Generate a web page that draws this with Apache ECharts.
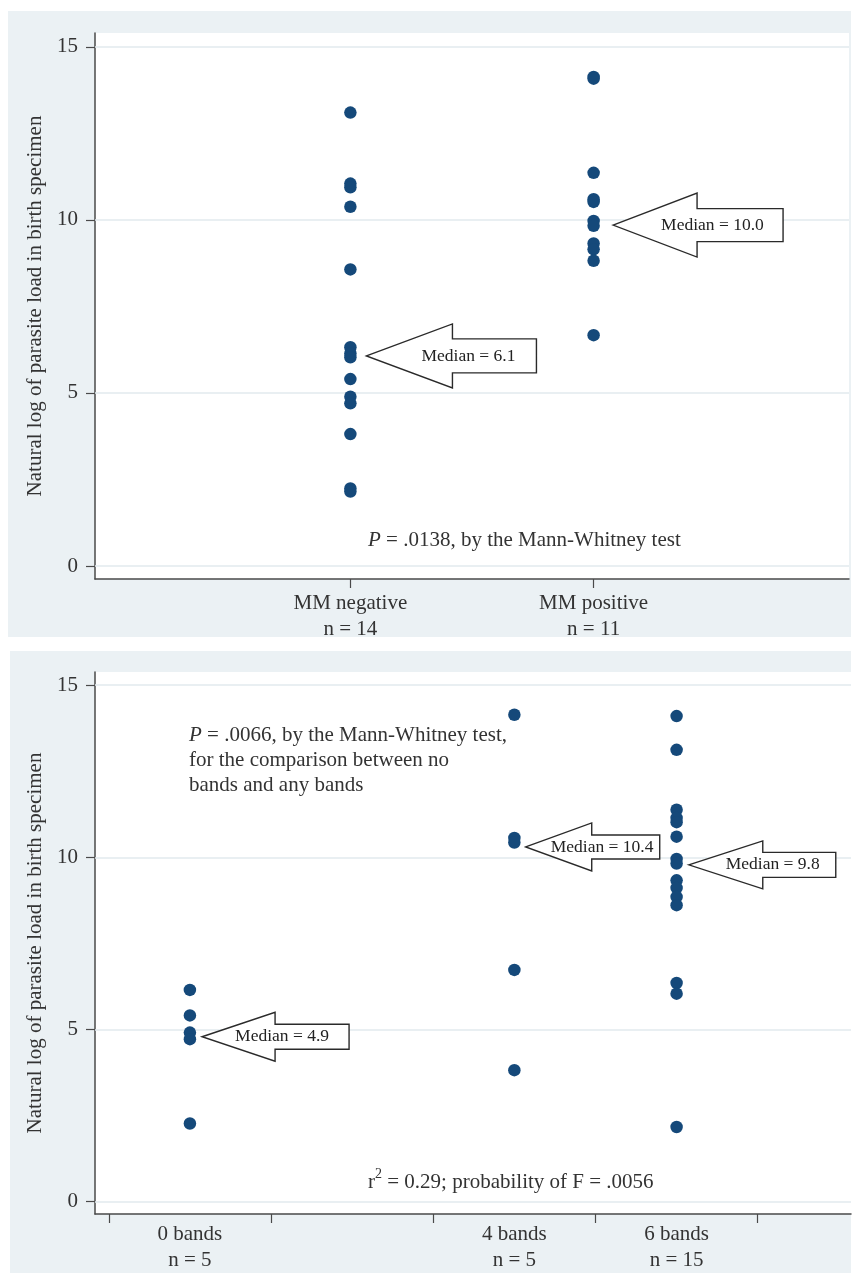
<!DOCTYPE html>
<html>
<head>
<meta charset="utf-8">
<script src="https://cdn.jsdelivr.net/npm/echarts@6/dist/echarts.min.js"></script>
<style>
  html, body { margin: 0; padding: 0; background: #ffffff; }
  #chart { width: 859px; height: 1273px; }
</style>
</head>
<body>
<div id="chart"></div>
<script>
// ---------------- DATA ----------------
// Top panel: MM status
const topCategories = ['MM negative', 'MM positive'];
const topXPositions = [1, 2];
const mmNegative = [13.10, 11.05, 10.94, 10.38, 8.57, 6.32, 6.14, 6.03, 5.40, 4.89, 4.70, 3.81, 2.24, 2.15];
const mmPositive = [14.13, 14.08, 11.36, 10.60, 10.52, 9.97, 9.83, 9.32, 9.15, 8.82, 6.67];
const topMedians = [6.1, 10.0];

// Bottom panel: number of bands
const bottomCategories = ['0 bands', '4 bands', '6 bands'];
const bottomXPositions = [0, 4, 6];
const bands0 = [6.15, 5.41, 4.91, 4.72, 2.27];
const bands4 = [14.14, 10.56, 10.43, 6.73, 3.82];
const bands6 = [14.10, 13.12, 11.38, 11.14, 11.02, 10.60, 9.95, 9.82, 9.33, 9.11, 8.85, 8.61, 6.35, 6.04, 2.17];
const bottomMedians = [4.9, 10.4, 9.8];

// Axis ticks
const yTicks = [0, 5, 10, 15];
const topXTicks = [1, 2];
const bottomXTicks = [-1, 1, 3, 5, 7];

// Annotation texts
const yTitle = 'Natural log of parasite load in birth specimen';
const topTestText = '{i|P} = .0138, by the Mann-Whitney test';
const bottomTestText = '{i|P} = .0066, by the Mann-Whitney test,\nfor the comparison between no\nbands and any bands';

// Arrow tips (data coordinates) and shapes (pixels)
const topArrowTips = [[1.066, 6.07], [2.08, 9.85]];
const bottomArrowTips = [[0.15, 4.79], [4.14, 10.30], [6.15, 9.78]];
const topArrowShapes = [
  { hl: 86, hh: 32, sh: 17, sl: 84, dx: 55 },
  { hl: 84, hh: 32, sh: 16.5, sl: 86, dx: 48 }
];
const bottomArrowShapes = [
  { hl: 73, hh: 24.5, sh: 12.5, sl: 74, dx: 33 },
  { hl: 66, hh: 24, sh: 12, sl: 68, dx: 25 },
  { hl: 74, hh: 24, sh: 12.5, sl: 73, dx: 37 }
];

// ---------------- STYLE ----------------
const FONT = '"Liberation Serif", "Times New Roman", serif';
const DOT = '#15497a';
const AXIS = '#4a4a4a';
const TXT = '#333333';
const GRIDLINE = '#e2eaee';
const PANEL = '#ebf1f4';

const chart = echarts.init(document.getElementById('chart'), null, { renderer: 'canvas' });

function arrowSeries(tips, shapes, medians, xi, yi) {
  return {
    type: 'custom',
    xAxisIndex: xi,
    yAxisIndex: yi,
    silent: true,
    z: 6,
    data: tips.map((t, i) => [t[0], t[1], i]),
    renderItem: function (params, api) {
      const p = api.coord([api.value(0), api.value(1)]);
      const i = api.value(2);
      const s = shapes[i];
      const x = p[0], y = p[1];
      const pts = [
        [x, y],
        [x + s.hl, y - s.hh],
        [x + s.hl, y - s.sh],
        [x + s.hl + s.sl, y - s.sh],
        [x + s.hl + s.sl, y + s.sh],
        [x + s.hl, y + s.sh],
        [x + s.hl, y + s.hh]
      ];
      return {
        type: 'group',
        children: [
          { type: 'polygon', shape: { points: pts }, style: { fill: '#ffffff', stroke: '#2a2a2a', lineWidth: 1.4 } },
          { type: 'text', style: {
              text: 'Median = ' + medians[i].toFixed(1),
              x: x + s.dx, y: y,
              align: 'left', verticalAlign: 'middle',
              fontFamily: FONT, fontSize: 17.5, fill: '#222222'
          } }
        ]
      };
    }
  };
}

function gridLineSeries(xi, yi) {
  return {
    type: 'scatter', xAxisIndex: xi, yAxisIndex: yi, data: [], z: 1, silent: true,
    markLine: {
      z: 1,
      silent: true,
      symbol: 'none',
      label: { show: false },
      lineStyle: { color: GRIDLINE, width: 1.5, type: 'solid' },
      data: yTicks.map(v => ({ yAxis: v }))
    }
  };
}

function yAxisDef(gridIndex, min, max) {
  return {
    type: 'value', gridIndex: gridIndex, min: min, max: max,
    name: yTitle, nameLocation: 'middle', nameRotate: 90, nameGap: 48,
    nameTextStyle: { fontFamily: FONT, fontSize: 21, color: TXT },
    axisLine: { show: true, onZero: false, lineStyle: { color: AXIS, width: 1.5 } },
    axisTick: { show: true, length: 9, lineStyle: { color: AXIS, width: 1.2 }, customValues: yTicks },
    axisLabel: { fontFamily: FONT, fontSize: 21, color: TXT, margin: 17, customValues: yTicks },
    splitLine: { show: false }
  };
}

function dotSeries(values, xPos, xi, yi) {
  return {
    type: 'scatter', xAxisIndex: xi, yAxisIndex: yi, symbolSize: 12.5,
    itemStyle: { color: DOT, opacity: 1 }, z: 4,
    data: values.map(v => [xPos, v])
  };
}

const option = {
  animation: false,
  backgroundColor: '#ffffff',
  graphic: [
    { type: 'rect', z: -10, shape: { x: 8, y: 11, width: 843, height: 626 }, style: { fill: PANEL } },
    { type: 'rect', z: -10, shape: { x: 10, y: 651, width: 841, height: 622 }, style: { fill: PANEL } },
    { type: 'text', z: 10, style: {
        text: topTestText, x: 368, y: 540, verticalAlign: 'middle',
        fontFamily: FONT, fontSize: 21, fill: TXT,
        rich: { i: { fontFamily: FONT, fontSize: 21, fontStyle: 'italic', fill: TXT } }
    } },
    { type: 'text', z: 10, style: {
        text: bottomTestText, x: 189, y: 723,
        fontFamily: FONT, fontSize: 21, lineHeight: 25, fill: TXT,
        rich: { i: { fontFamily: FONT, fontSize: 21, fontStyle: 'italic', fill: TXT, lineHeight: 25 } }
    } },
    { type: 'text', z: 10, style: {
        text: '{t|r}{s|2}{t| = 0.29; probability of F = .0056}', x: 368, y: 1167,
        fontFamily: FONT, fontSize: 21, fill: TXT,
        rich: {
          t: { fontFamily: FONT, fontSize: 21, fill: TXT, lineHeight: 26, verticalAlign: 'bottom' },
          s: { fontFamily: FONT, fontSize: 14, fill: TXT, lineHeight: 26, verticalAlign: 'top' }
        }
    } }
  ],
  grid: [
    { left: 95, top: 33, right: 10, bottom: 694, show: true, backgroundColor: '#ffffff', borderWidth: 0 },
    { left: 95, top: 672, right: 8, bottom: 55, show: true, backgroundColor: '#ffffff', borderWidth: 0 }
  ],
  xAxis: [
    {
      type: 'value', gridIndex: 0, min: -0.05, max: 3.05,
      axisLine: { show: true, onZero: false, lineStyle: { color: AXIS, width: 1.5 } },
      axisTick: { show: true, length: 9, lineStyle: { color: AXIS, width: 1.2 }, customValues: topXTicks },
      axisLabel: {
        customValues: topXPositions, margin: 11,
        fontFamily: FONT, fontSize: 21, color: TXT, lineHeight: 26,
        formatter: function (v) {
          const i = topXPositions.indexOf(v);
          const n = [mmNegative, mmPositive][i].length;
          return topCategories[i] + '\nn = ' + n;
        }
      },
      splitLine: { show: false }
    },
    {
      type: 'value', gridIndex: 1, min: -1.17, max: 8.15,
      axisLine: { show: true, onZero: false, lineStyle: { color: AXIS, width: 1.5 } },
      axisTick: { show: true, length: 9, lineStyle: { color: AXIS, width: 1.2 }, customValues: bottomXTicks },
      axisLabel: {
        customValues: bottomXPositions, margin: 7,
        fontFamily: FONT, fontSize: 21, color: TXT, lineHeight: 26,
        formatter: function (v) {
          const i = bottomXPositions.indexOf(v);
          const n = [bands0, bands4, bands6][i].length;
          return bottomCategories[i] + '\nn = ' + n;
        }
      },
      splitLine: { show: false }
    }
  ],
  yAxis: [
    yAxisDef(0, -0.376, 15.40),
    yAxisDef(1, -0.357, 15.38)
  ],
  series: [
    gridLineSeries(0, 0),
    gridLineSeries(1, 1),
    dotSeries(mmNegative, topXPositions[0], 0, 0),
    dotSeries(mmPositive, topXPositions[1], 0, 0),
    dotSeries(bands0, bottomXPositions[0], 1, 1),
    dotSeries(bands4, bottomXPositions[1], 1, 1),
    dotSeries(bands6, bottomXPositions[2], 1, 1),
    arrowSeries(topArrowTips, topArrowShapes, topMedians, 0, 0),
    arrowSeries(bottomArrowTips, bottomArrowShapes, bottomMedians, 1, 1)
  ]
};

chart.setOption(option);
</script>
</body>
</html>
